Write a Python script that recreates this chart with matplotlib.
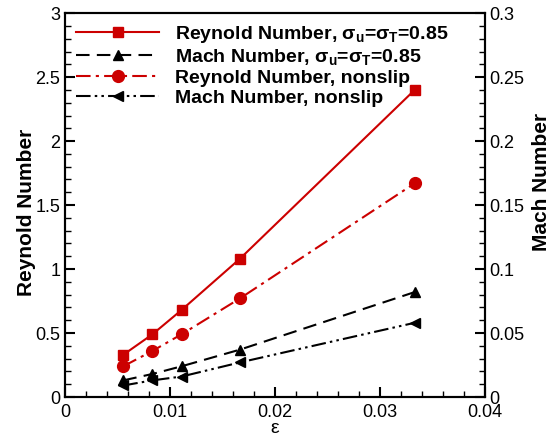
import matplotlib
matplotlib.use('Agg')
import matplotlib.pyplot as plt
from matplotlib.ticker import MultipleLocator, FormatStrFormatter

plt.rcParams['font.family'] = ['Liberation Sans', 'DejaVu Sans']
plt.rcParams['mathtext.fontset'] = 'custom'
plt.rcParams['mathtext.rm'] = 'Liberation Sans'
plt.rcParams['mathtext.it'] = 'Liberation Sans:bold'
plt.rcParams['mathtext.bf'] = 'Liberation Sans:bold'

# datos
eps = [1 / 180, 1 / 120, 1 / 90, 1 / 60, 1 / 30]
re_slip = [0.33, 0.49, 0.68, 1.08, 2.40]
re_noslip = [0.24, 0.36, 0.49, 0.77, 1.67]
ma_slip = [0.013, 0.018, 0.024, 0.037, 0.082]
ma_noslip = [0.009, 0.013, 0.016, 0.027, 0.058]

labels = [r'Reynold Number, $\sigma_u$=$\sigma_T$=0.85',
          r'Mach Number, $\sigma_u$=$\sigma_T$=0.85',
          'Reynold Number, nonslip',
          'Mach Number, nonslip']

rojo = '#cc0000'

fig = plt.figure(figsize=(5.58, 4.38), dpi=100)
ax = fig.add_axes([0.1165, 0.0936, 0.752, 0.8764])
ax2 = ax.twinx()

l1, = ax.plot(eps, re_slip, color=rojo, lw=1.5, marker='s', ms=7)
l3, = ax.plot(eps, re_noslip, color=rojo, lw=1.5, marker='o', ms=8.5,
              dashes=(7, 2.5, 1.5, 2.5))
l2, = ax2.plot(eps, ma_slip, color='k', lw=1.5, marker='^', ms=7,
               dashes=(6.5, 3.5))
l4, = ax2.plot(eps, ma_noslip, color='k', lw=1.5, marker='<', ms=7,
               dashes=(7, 2, 1.2, 2, 1.2, 2))

ax.set_xlim(0, 0.04)
ax.set_ylim(0, 3)
ax2.set_ylim(0, 0.3)

ax.xaxis.set_major_locator(MultipleLocator(0.01))
ax.xaxis.set_minor_locator(MultipleLocator(0.002))
ax.yaxis.set_major_locator(MultipleLocator(0.5))
ax.yaxis.set_minor_locator(MultipleLocator(0.1))
ax2.yaxis.set_major_locator(MultipleLocator(0.05))
ax2.yaxis.set_minor_locator(MultipleLocator(0.01))

ax.xaxis.set_major_formatter(FormatStrFormatter('%g'))
ax.yaxis.set_major_formatter(FormatStrFormatter('%g'))
ax2.yaxis.set_major_formatter(FormatStrFormatter('%g'))

for a in (ax, ax2):
    a.tick_params(which='major', direction='in', length=7, width=1.5, labelsize=13)
    a.tick_params(which='minor', direction='in', length=4, width=1)
    for s in a.spines.values():
        s.set_linewidth(1.5)
ax.tick_params(axis='y', right=False)
ax.tick_params(axis='x', pad=5)

ax.set_xlabel('ε', fontsize=14)
ax.xaxis.set_label_coords(0.5, -0.06)
ax.set_ylabel('Reynold Number', fontsize=15, fontweight='bold')
ax.yaxis.set_label_coords(-0.068, 0.48)
ax2.set_ylabel('Mach Number', fontsize=15, fontweight='bold')
ax2.yaxis.set_label_coords(1.112, 0.56)

leg = ax.legend([l1, l2, l3, l4], labels, loc='upper left', frameon=False,
                handlelength=4.3, prop={'weight': 'bold', 'size': 14},
                borderaxespad=0.15, labelspacing=0.12, handletextpad=0.8)

fig.savefig('out.png', dpi=100)
